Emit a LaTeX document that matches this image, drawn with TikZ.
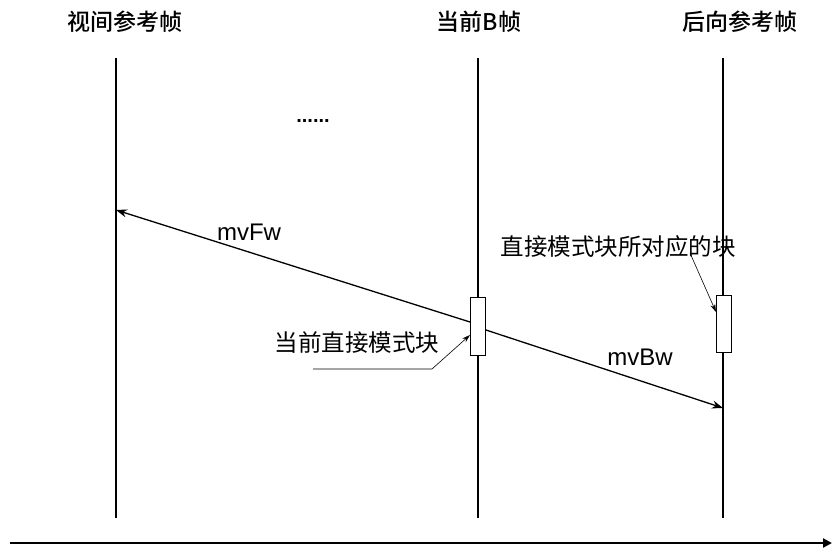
\documentclass[tikz,border=0pt]{standalone}
\usepackage{fontspec}
\setmainfont{Liberation Sans}
\newfontfamily\cjk{Noto Sans CJK SC}
\newfontfamily\cjkb{Noto Sans CJK SC Medium}
\usetikzlibrary{arrows.meta}
\begin{document}
\begin{tikzpicture}[x=1pt,y=-1pt,
  hdr/.style={font=\cjkb\fontsize{23}{26}\selectfont, inner sep=0pt},
  lbl/.style={font=\cjk\fontsize{23.5}{26}\selectfont, inner sep=0pt},
  mv/.style={font=\fontsize{24}{26}\selectfont, inner sep=0pt},
  frame/.style={line width=1.4pt},
  blk/.style={draw, line width=1pt, fill=white, minimum width=15pt, inner sep=0pt},
  vec/.style={line width=1.3pt, -{Stealth[length=11pt,width=8pt]}},
  lead/.style={line width=0.6pt, -{Stealth[length=8pt,width=5pt]}}]
\useasboundingbox (0,0) rectangle (832,550);
% headers
\node[hdr] (h1) at (125,22) {视间参考帧};
\node[hdr] (h2) at (479,22) {当前B帧};
\node[hdr] (h3) at (740,22) {后向参考帧};
% frame lines
\coordinate (a1) at (116,58); \coordinate (a2) at (116,518);
\coordinate (b1) at (478,58); \coordinate (b2) at (478,518);
\coordinate (c1) at (723,58); \coordinate (c2) at (723,518);
\draw[frame] (a1) -- (a2);
\draw[frame] (b1) -- (b2);
\draw[frame] (c1) -- (c2);
% dots
\node[inner sep=0pt, font=\bfseries\fontsize{20}{22}\selectfont] (dots) at (313,121) {......};
% blocks
\node[blk, minimum height=58pt] (cur) at (478,326) {};
\node[blk, minimum height=57pt] (cor) at (724,324) {};
% vectors
\coordinate (fwend) at (116,210);
\coordinate (bwend) at (723,408);
\draw[vec] (cur.west |- 0,322) -- (fwend);
\draw[vec] (cur.east |- 0,330) -- (bwend);
\node[mv] (lfw) at (249,232) {mvFw};
\node[mv] (lbw) at (640,357) {mvBw};
% annotations
\node[lbl] (t1) at (357,343) {当前直接模式块};
\node[lbl] (t2) at (618,247) {直接模式块所对应的块};
\coordinate (l1) at (313,369);
\coordinate (l2) at (432,369);
\coordinate (l3) at (690,253);
\draw[lead] (l1) -- (l2) -- (cur.west |- 0,335);
\draw[lead] (l3) -- (cor.west |- 0,312);
% time axis
\coordinate (t0) at (10,543);
\coordinate (tE) at (832,543);
\draw[line width=2.6pt, -{Triangle[length=9pt,width=9pt]}] (t0) -- (tE);
\end{tikzpicture}
\end{document}
